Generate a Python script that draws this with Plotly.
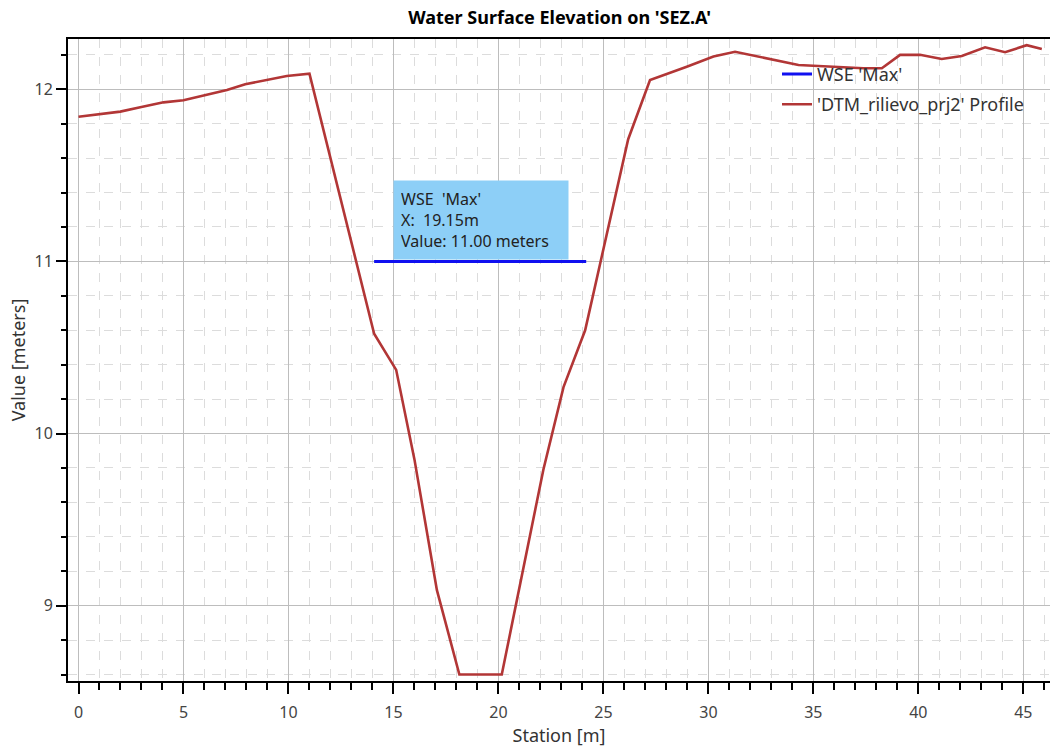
import plotly.graph_objects as go

# Terrain profile ('DTM_rilievo_prj2' Profile)
station = [0, 1.99, 2.94, 4.05, 5.0, 7.07, 7.94, 9.92, 11.0, 14.08, 15.13, 16.0, 17.07,
           18.14, 20.16, 22.14, 23.1, 24.13, 26.18, 27.22, 28.97, 30.24, 31.27, 32.78,
           34.29, 35.95, 37.38, 38.26, 39.13, 40.08, 41.11, 42.07, 43.18, 44.13, 45.16, 45.88]
elevation = [11.84, 11.87, 11.895, 11.924, 11.936, 11.996, 12.029, 12.077, 12.091, 10.58,
             10.37, 9.85, 9.09, 8.6, 8.6, 9.79, 10.27, 10.6, 11.71, 12.054, 12.131, 12.19,
             12.218, 12.18, 12.141, 12.131, 12.122, 12.122, 12.2, 12.2, 12.176, 12.193,
             12.244, 12.215, 12.256, 12.234]

# Water surface (WSE 'Max')
wse_station = [14.08, 24.18]
wse_value = [11.0, 11.0]
wse_x_label = 19.15

FONT = "Segoe UI, Noto Sans, Open Sans, sans-serif"

fig = go.Figure()
fig.add_trace(go.Scatter(x=wse_station, y=wse_value, mode="lines", name="WSE 'Max'",
                         line=dict(color="#1010F0", width=3), legendgroup="a"))
fig.add_trace(go.Scatter(x=station, y=elevation, mode="lines",
                         name="'DTM_rilievo_prj2' Profile",
                         line=dict(color="#B23636", width=2.6), legendgroup="b"))

fig.add_annotation(
    x=wse_x_label, y=wse_value[0], xref="x", yref="y",
    xanchor="center", yanchor="bottom", showarrow=False,
    text=f"WSE  'Max'<br>X:  {wse_x_label:.2f}m<br>Value: {wse_value[0]:.2f} meters",
    align="left", valign="middle", width=160, height=64, borderpad=7,
    bgcolor="#8DCFF7", font=dict(family=FONT, size=16, color="#222"), yshift=1,
)

fig.update_layout(
    width=1050, height=751,
    margin=dict(l=68, r=0, t=39, b=70),
    paper_bgcolor="white", plot_bgcolor="white",
    font=dict(family=FONT, size=16, color="#444"),
    title=dict(text="<b>Water Surface Elevation on 'SEZ.A'</b>", x=0.533, xanchor="center",
               y=0.977, yanchor="middle", font=dict(family=FONT, size=18, color="black")),
    showlegend=True,
    legend=dict(x=0.722, y=0.974, xanchor="left", yanchor="top", bgcolor="rgba(0,0,0,0)",
                font=dict(family=FONT, size=18, color="#333"),
                traceorder="grouped", tracegroupgap=4),
    xaxis=dict(
        range=[-0.5, 46.27], dtick=5, tick0=0, ticks="outside", ticklen=11, tickwidth=2,
        tickcolor="black", showline=True, linecolor="black", linewidth=2, mirror=True,
        showgrid=True, gridcolor="#BDBDBD", gridwidth=1, zeroline=False,
        ticklabelstandoff=5,
        minor=dict(dtick=1, ticks="outside", ticklen=7, tickwidth=1.5, tickcolor="black",
                   showgrid=True, gridcolor="#DCDCDC", griddash="dash", gridwidth=1),
        title=dict(text="Station [m]", standoff=6, font=dict(size=18, color="#333")),
        tickfont=dict(size=16, color="#444"),
    ),
    yaxis=dict(
        range=[8.5625, 12.292], dtick=1, tick0=0, ticks="outside", ticklen=10, tickwidth=2,
        tickcolor="black", showline=True, linecolor="black", linewidth=2,
        showgrid=True, gridcolor="#BDBDBD", gridwidth=1, zeroline=False,
        minor=dict(dtick=0.2, ticks="outside", ticklen=5, tickwidth=1.5, tickcolor="black",
                   showgrid=True, gridcolor="#DCDCDC", griddash="dash", gridwidth=1),
        title=dict(text="Value [meters]", standoff=4, font=dict(size=18, color="#333")),
        tickfont=dict(size=16, color="#444"),
    ),
)

fig.write_html("out.html")
